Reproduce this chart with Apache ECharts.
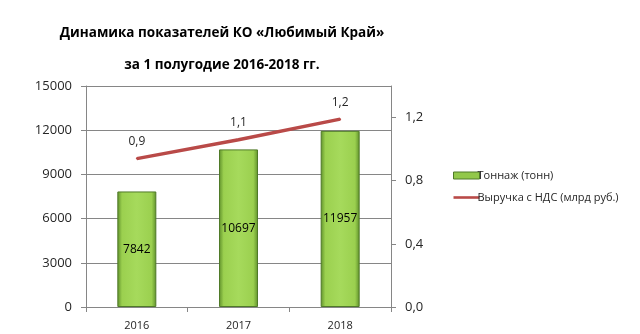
<!DOCTYPE html>
<html><head><meta charset="utf-8">
<script src="https://cdn.jsdelivr.net/npm/echarts@6/dist/echarts.min.js"></script>
<style>html,body{margin:0;padding:0;background:#fff}#c{width:640px;height:334px}</style>
</head><body><div id="c"></div>
<script>
const categories = ['2016', '2017', '2018'];
const tonnage = [7842, 10697, 11957];
const revenue = [0.94, 1.06, 1.19];
const seriesNames = ['Тоннаж (тонн)', 'Выручка с НДС (млрд руб.)'];
const titleLines = ['Динамика показателей КО «Любимый Край»', 'за 1 полугодие 2016-2018 гг.'];

const chart = echarts.init(document.getElementById('c'), null, {renderer: 'canvas'});
const fmtComma = v => v.toFixed(1).replace('.', ',');
const txt = '#262626';
chart.setOption({
  animation: false,
  backgroundColor: '#fff',
  title: [
    {text: titleLines[0], left: 217, top: 21, textAlign: 'center',
     textStyle: {fontFamily: 'Open Sans', fontWeight: 'bold', fontSize: 13.5, color: '#000'}},
    {text: titleLines[1], left: 217, top: 53, textAlign: 'center',
     textStyle: {fontFamily: 'Open Sans', fontWeight: 'bold', fontSize: 13.5, color: '#000'}}
  ],
  legend: {
    orient: 'vertical', left: 448, top: 165, itemWidth: 26, itemHeight: 7, itemGap: 11,
    textStyle: {fontFamily: 'Open Sans', fontSize: 11, color: txt, padding: [0,0,0,-7]},
    data: [
      {name: seriesNames[0], icon: 'rect', itemStyle: {color: '#92C84A', borderColor: '#4F7A28', borderWidth: 1}},
      {name: seriesNames[1], icon: 'path://M0,0L10,0L10,1L0,1Z', itemStyle: {color: '#B94A48', opacity: 1}}
    ]
  },
  grid: {left: 86, right: 249, top: 86, bottom: 27},
  xAxis: {
    type: 'category', data: categories,
    axisLine: {lineStyle: {color: '#868686'}},
    axisTick: {show: true, length: 5, lineStyle: {color: '#868686'}},
    axisLabel: {fontFamily: 'Open Sans', fontSize: 11, color: txt, margin: 13}
  },
  yAxis: [
    {type: 'value', min: 0, max: 15000, interval: 3000,
     axisLine: {show: true, lineStyle: {color: '#868686'}},
     axisTick: {show: true, length: 5, lineStyle: {color: '#868686'}},
     axisLabel: {fontFamily: 'Open Sans', fontSize: 13, color: txt, margin: 14, formatter: v => String(v)},
     splitLine: {lineStyle: {color: '#868686', width: 1}}},
    {type: 'value', min: 0, max: 1.4, interval: 0.4, position: 'right',
     axisLine: {show: true, lineStyle: {color: '#868686'}},
     axisTick: {show: true, length: 5, lineStyle: {color: '#868686'}},
     axisLabel: {fontFamily: 'Open Sans', fontSize: 13, color: txt, margin: 14, showMaxLabel: false,
       formatter: v => fmtComma(v)},
     splitLine: {show: false}}
  ],
  series: [
    {name: seriesNames[0], type: 'bar', data: tonnage, barWidth: 39, yAxisIndex: 0,
     itemStyle: {
       color: new echarts.graphic.LinearGradient(0, 0, 1, 0, [
         {offset: 0, color: '#5E8F2A'}, {offset: 0.12, color: '#9BD04F'},
         {offset: 0.5, color: '#A6DA5C'}, {offset: 0.88, color: '#9BD04F'}, {offset: 1, color: '#5E8F2A'}]),
       borderColor: '#4F7A28', borderWidth: 1},
     label: {show: true, position: 'inside', fontFamily: 'Open Sans', fontSize: 12, color: '#000'}},
    {name: seriesNames[1], type: 'line', data: revenue, yAxisIndex: 1,
     symbol: 'circle', symbolSize: 2, showSymbol: true,
     lineStyle: {color: '#B94A48', width: 3.5}, itemStyle: {color: '#B94A48'},
     label: {show: true, position: 'top', distance: 10, fontFamily: 'Open Sans', fontSize: 12, color: txt,
       formatter: p => fmtComma(p.value)}}
  ]
});
</script></body></html>
